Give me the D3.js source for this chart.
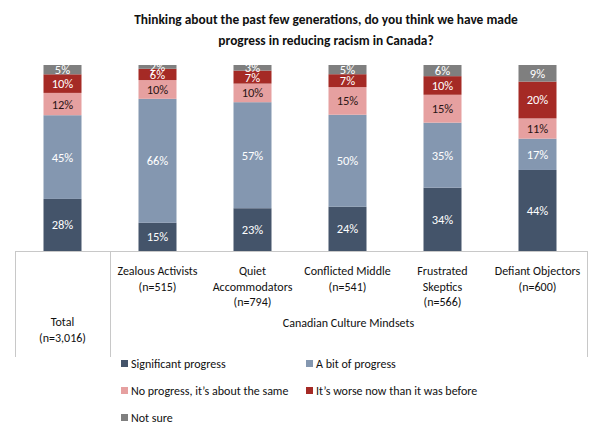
<!DOCTYPE html>
<html>
<head>
<meta charset="utf-8">
<script src="https://cdn.jsdelivr.net/npm/d3@7"></script>
<style>
  body { margin: 0; background: #fff; }
  svg text { font-family: Carlito, Lato, "Open Sans", sans-serif; }
</style>
</head>
<body>
<div id="container"></div>
<script>
const categories = ['Total', 'Zealous Activists', 'Quiet Accommodators', 'Conflicted Middle', 'Frustrated Skeptics', 'Defiant Objectors'];
const catLabels = [
  ['Total', '(n=3,016)'],
  ['Zealous Activists', '(n=515)'],
  ['Quiet', 'Accommodators', '(n=794)'],
  ['Conflicted Middle', '(n=541)'],
  ['Frustrated', 'Skeptics', '(n=566)'],
  ['Defiant Objectors', '(n=600)']
];
const seriesNames = ['Significant progress', 'A bit of progress', 'No progress, it\u2019s about the same', 'It\u2019s worse now than it was before', 'Not sure'];
const significant = [28, 15, 23, 24, 34, 44];
const bitOf = [45, 66, 57, 50, 35, 17];
const noProgress = [12, 10, 10, 15, 15, 11];
const worse = [10, 6, 7, 7, 10, 20];
const notSure = [5, 2, 3, 5, 6, 9];
const groupLabel = 'Canadian Culture Mindsets';
const titleLines = ['Thinking about the past few generations, do you think we have made', 'progress in reducing racism in Canada?'];

const colors = ['#44546a', '#8497b0', '#e6a0a0', '#a52a25', '#7f7f7f'];
const labelColors = ['#fff', '#fff', '#2a1515', '#fff', '#fff'];

const w = 602, h = 431;
const svg = d3.select('#container').append('svg').attr('width', w).attr('height', h);

svg.selectAll('.title').data(titleLines).enter().append('text')
  .attr('x', 326).attr('y', (d, i) => 24 + i * 21)
  .attr('text-anchor', 'middle').attr('font-weight', 'bold').attr('font-size', 13.4)
  .attr('fill', '#111').text(d => d);

const series = [significant, bitOf, noProgress, worse, notSure];
const keys = seriesNames.map((d, k) => 's' + k);
const table = categories.map((c, i) => {
  const o = { cat: c };
  series.forEach((s, k) => o['s' + k] = s[i]);
  return o;
});
// rounded shares don't always add to 100; bars are drawn as full 100% stacks
const stacked = d3.stack().keys(keys).offset(d3.stackOffsetExpand)(table);

const x = d3.scaleBand().domain(categories).range([15, 585]).paddingInner(0.6).paddingOuter(0.3);
const y = d3.scaleLinear().domain([0, 1]).range([251, 65]);

const layer = svg.selectAll('.layer').data(stacked).enter().append('g')
  .attr('fill', (d, k) => colors[k]);
layer.selectAll('rect').data(d => d).enter().append('rect')
  .attr('x', d => x(d.data.cat))
  .attr('width', x.bandwidth())
  .attr('y', d => y(d[1]))
  .attr('height', d => y(d[0]) - y(d[1]));

stacked.forEach((s, k) => {
  svg.append('g').selectAll('text').data(s).enter().append('text')
    .attr('x', d => x(d.data.cat) + x.bandwidth() / 2)
    .attr('y', d => (y(d[0]) + y(d[1])) / 2 + 4.5)
    .attr('text-anchor', 'middle').attr('font-size', 12.5)
    .attr('fill', labelColors[k])
    .text(d => d.data[s.key] + '%');
});

// category table lines
const step = x.step();
const left = 15, right = 587, sep = x('Total') + x.bandwidth() / 2 + step / 2;
const lines = svg.append('g').attr('stroke', '#c8c8c8').attr('stroke-width', 1);
lines.append('line').attr('x1', left).attr('x2', right).attr('y1', 251.5).attr('y2', 251.5);
[left, sep, right].forEach(xx => {
  lines.append('line').attr('x1', xx + 0.5).attr('x2', xx + 0.5).attr('y1', 251).attr('y2', 357);
});

catLabels.forEach((lbl, i) => {
  const cx = x(categories[i]) + x.bandwidth() / 2;
  const y0 = i === 0 ? 326 : 275;
  svg.append('g').selectAll('text').data(lbl).enter().append('text')
    .attr('x', cx).attr('y', (d, j) => y0 + j * 15.5)
    .attr('text-anchor', 'middle').attr('font-size', 12).attr('fill', '#111')
    .text(d => d);
});
svg.append('text')
  .attr('x', (sep + right) / 2).attr('y', 327)
  .attr('text-anchor', 'middle').attr('font-size', 12).attr('fill', '#111')
  .text(groupLabel);

// legend
const legend = svg.append('g');
const lg = legend.selectAll('g').data(seriesNames).enter().append('g')
  .attr('transform', (d, k) => `translate(${k % 2 === 0 ? 121 : 306},${368 + Math.floor(k / 2) * 27})`);
lg.append('rect').attr('x', 0).attr('y', -8).attr('width', 7).attr('height', 7)
  .attr('fill', (d, k) => colors[k]);
lg.append('text').attr('x', 10).attr('y', 0).attr('font-size', 12).attr('fill', '#111').text(d => d);
</script>
</body>
</html>
